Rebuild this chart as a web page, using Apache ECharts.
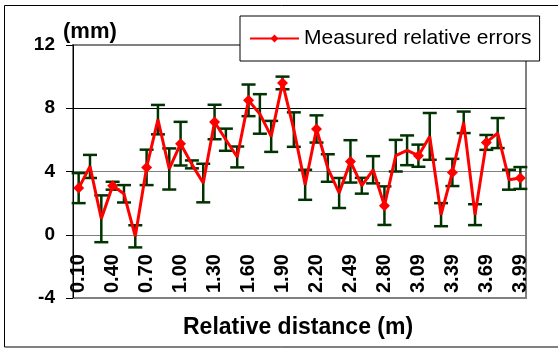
<!DOCTYPE html>
<html>
<head>
<meta charset="utf-8">
<script src="https://cdn.jsdelivr.net/npm/echarts@6/dist/echarts.min.js"></script>
<style>
	html, body { margin: 0; padding: 0; background: #fff; }
	#chart { width: 558px; height: 350px; }
</style>
</head>
<body>
<div id="chart"></div>
<script>
var distances = ['0.10','0.20','0.30','0.40','0.50','0.60','0.70','0.80','0.90','1.00',
	'1.10','1.20','1.30','1.40','1.50','1.60','1.70','1.80','1.90','2.00',
	'2.10','2.20','2.30','2.40','2.49','2.60','2.70','2.80','2.90','3.00',
	'3.09','3.19','3.29','3.39','3.49','3.59','3.69','3.79','3.89','3.99'];
var errorValues = [2.95, 4.32, 1.01, 3.10, 2.59, -0.10, 4.26, 7.28, 4.16, 5.76,
	4.45, 3.27, 7.13, 6.01, 4.92, 8.50, 7.64, 6.22, 9.60, 6.65,
	3.16, 6.69, 4.22, 2.64, 4.64, 3.10, 4.11, 1.84, 5.00, 5.34,
	5.00, 6.22, 1.27, 3.94, 7.11, 1.27, 5.84, 6.43, 3.48, 3.59];
var errorBars = [0.95, 0.73, 1.48, 0.25, 0.55, 0.70, 1.12, 0.93, 1.30, 1.38,
	0.25, 1.22, 1.09, 0.70, 0.66, 1.00, 1.25, 0.98, 0.40, 1.09,
	0.95, 0.86, 0.87, 0.95, 1.34, 0.50, 0.86, 1.22, 1.00, 0.94,
	0.70, 1.48, 0.73, 0.86, 0.68, 0.66, 0.47, 0.95, 0.63, 0.69];
var yTicks = [-4, 0, 4, 8, 12];

var font = '"Liberation Sans", Arial, sans-serif';

var barData = errorValues.map(function(v, i){
	return [i, v, errorBars[i]];
});

var chart = echarts.init(document.getElementById('chart'));
var option = {
	animation: false,
	backgroundColor: '#fff',
	title: [
		{
			text: 'Relative distance (m)',
			left: 178,
			top: 311,
			textStyle: { fontFamily: font, fontSize: 23, fontWeight: 'bold', color: '#000' }
		},
		{
			text: '(mm)',
			left: 58,
			top: 16,
			textStyle: { fontFamily: font, fontSize: 22, fontWeight: 'bold', color: '#000' }
		}
	],
	legend: {
		data: ['Measured relative errors'],
		left: 240,
		top: 16,
		padding: [12, 8, 12, 9],
		itemWidth: 49,
		itemHeight: 10,
		itemGap: 5,
		backgroundColor: '#fff',
		borderColor: '#000',
		borderWidth: 1,
		textStyle: { fontFamily: font, fontSize: 21, color: '#000' }
	},
	graphic: [{
		type: 'rect',
		shape: { x: 4.5, y: 5.5, width: 600, height: 341.5 },
		style: { fill: null, stroke: '#000', lineWidth: 1 },
		z: -1
	}],
	grid: {
		left: 73,
		top: 45,
		right: 32,
		bottom: 52,
		containLabel: false,
		outerBoundsMode: 'none',
		show: true,
		borderColor: '#808080',
		borderWidth: 2
	},
	xAxis: {
		type: 'category',
		data: distances,
		boundaryGap: true,
		axisLine: { onZero: false, lineStyle: { color: '#808080', width: 1 } },
		axisTick: { show: false },
		axisLabel: {
			inside: true,
			interval: 2,
			rotate: 90,
			margin: 5,
			fontFamily: font,
			fontSize: 20,
			fontWeight: 'bold',
			color: '#000'
		},
		splitLine: { show: false }
	},
	yAxis: {
		type: 'value',
		min: yTicks[0],
		max: yTicks[yTicks.length - 1],
		interval: 4,
		axisLine: { show: true, lineStyle: { color: '#000', width: 1 } },
		axisTick: { show: true, length: 7, lineStyle: { color: '#000' } },
		axisLabel: {
			margin: 18,
			fontFamily: font,
			fontSize: 19,
			fontWeight: 'bold',
			color: '#000'
		},
		splitLine: {
			show: true,
			lineStyle: { color: ['#808080', '#808080', '#808080', '#000', '#808080'], width: 1 }
		}
	},
	series: [
		{
			type: 'custom',
			name: 'error bars',
			z: 2,
			data: barData,
			encode: { x: 0, y: 1 },
			renderItem: function(params, api){
				var i = api.value(0), v = api.value(1), e = api.value(2);
				var top = api.coord([i, v + e]);
				var bot = api.coord([i, v - e]);
				var hw = 7;
				var st = { stroke: '#003300', lineWidth: 2.5 };
				return {
					type: 'group',
					children: [
						{ type: 'line', shape: { x1: top[0], y1: top[1], x2: bot[0], y2: bot[1] }, style: st },
						{ type: 'line', shape: { x1: top[0] - hw, y1: top[1], x2: top[0] + hw, y2: top[1] }, style: st },
						{ type: 'line', shape: { x1: bot[0] - hw, y1: bot[1], x2: bot[0] + hw, y2: bot[1] }, style: st }
					]
				};
			}
		},
		{
			type: 'line',
			name: 'Measured relative errors',
			z: 3,
			data: errorValues,
			symbol: 'diamond',
			symbolSize: 11,
			itemStyle: { color: '#ff0000' },
			lineStyle: { color: '#ff0000', width: 3 }
		}
	]
};
chart.setOption(option);
</script>
</body>
</html>
